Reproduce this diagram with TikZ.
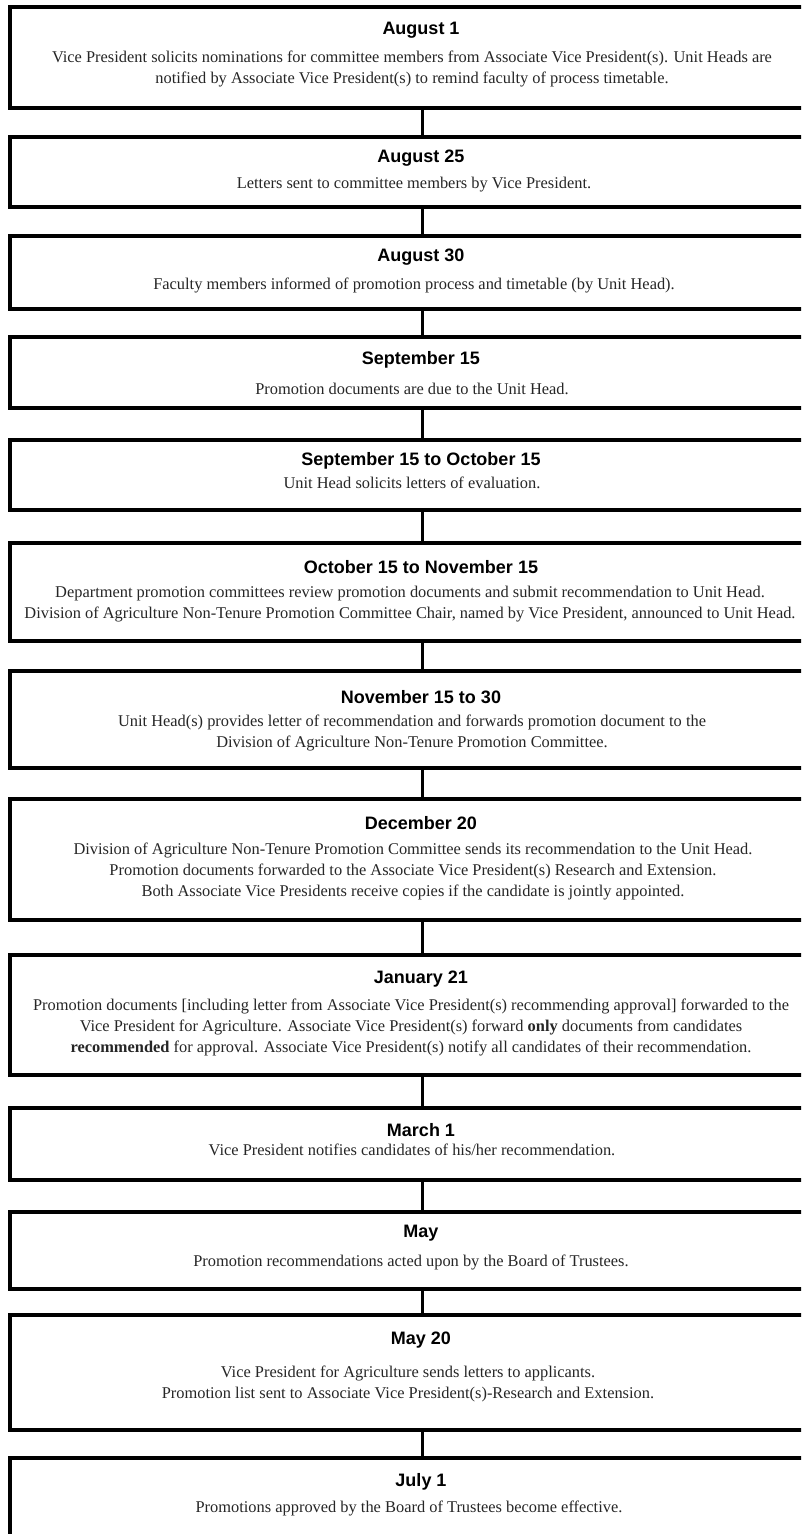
\documentclass[tikz,border=0pt]{standalone}
\usepackage{fontspec}
\setmainfont{Liberation Serif}
\newfontfamily\headfont{Liberation Sans}
\usetikzlibrary{positioning}
\tikzset{
  stagebox/.style={draw=black, line width=3.5pt, fill=white, minimum width=824pt, inner sep=0pt},
  stagetitle/.style={font=\headfont\bfseries\fontsize{18}{19}\selectfont, inner sep=0pt},
  stagetext/.style={font=\fontsize{16.4}{21}\selectfont, align=center, inner sep=0pt, text=black!85},
  link/.style={line width=3pt}
}

\begin{document}
\begin{tikzpicture}[x=1pt, y=-1pt]
  % Page frame (the boxes run off the right and bottom edge)
  \useasboundingbox (0,0) rectangle (801,1534);
  \clip (0,0) rectangle (801,1534);

  % Timeline boxes
  \node[stagebox, minimum height=101pt] (aug1) at (422,57.5) {};
  \node[stagebox, minimum height=70pt] (aug25) at (422,172) {};
  \node[stagebox, minimum height=73pt] (aug30) at (422,272.5) {};
  \node[stagebox, minimum height=71pt] (sep15) at (422,372.5) {};
  \node[stagebox, minimum height=70pt] (sepoct) at (422,475) {};
  \node[stagebox, minimum height=98pt] (octnov) at (422,592) {};
  \node[stagebox, minimum height=97pt] (nov) at (422,719.5) {};
  \node[stagebox, minimum height=121pt] (dec20) at (422,859.5) {};
  \node[stagebox, minimum height=120pt] (jan21) at (422,1015) {};
  \node[stagebox, minimum height=72pt] (mar1) at (422,1144) {};
  \node[stagebox, minimum height=77pt] (may) at (422,1250.5) {};
  \node[stagebox, minimum height=115pt] (may20) at (422,1372.5) {};
  \node[stagebox, minimum height=88pt] (jul1) at (422,1502) {};

  % Connectors
  \draw[link] (aug1) -- (aug25);
  \draw[link] (aug25) -- (aug30);
  \draw[link] (aug30) -- (sep15);
  \draw[link] (sep15) -- (sepoct);
  \draw[link] (sepoct) -- (octnov);
  \draw[link] (octnov) -- (nov);
  \draw[link] (nov) -- (dec20);
  \draw[link] (dec20) -- (jan21);
  \draw[link] (jan21) -- (mar1);
  \draw[link] (mar1) -- (may);
  \draw[link] (may) -- (may20);
  \draw[link] (may20) -- (jul1);

  % Dates
  \node[stagetitle] (aug1t) at (421,30) {August 1};
  \node[stagetitle] (aug25t) at (421,158) {August 25};
  \node[stagetitle] (aug30t) at (421,257) {August 30};
  \node[stagetitle] (sep15t) at (421,360) {September 15};
  \node[stagetitle] (sepoctt) at (421,461) {September 15 to October 15};
  \node[stagetitle] (octnovt) at (421,567) {October 15 to November 15};
  \node[stagetitle] (novt) at (421,697) {November 15 to 30};
  \node[stagetitle] (dec20t) at (421,823) {December 20};
  \node[stagetitle] (jan21t) at (421,979) {January 21};
  \node[stagetitle] (mar1t) at (421,1130) {March 1};
  \node[stagetitle] (mayt) at (421,1233) {May};
  \node[stagetitle] (may20t) at (421,1340) {May 20};
  \node[stagetitle] (jul1t) at (421,1482) {July 1};

  % Descriptions
  \node[stagetext] (aug1d) at (412,68.5) {Vice President solicits nominations for committee members from Associate Vice President(s). Unit Heads are\\notified by Associate Vice President(s) to remind faculty of process timetable.};
  \node[stagetext] (aug25d) at (414,185) {Letters sent to committee members by Vice President.};
  \node[stagetext] (aug30d) at (414,285) {Faculty members informed of promotion process and timetable (by Unit Head).};
  \node[stagetext] (sep15d) at (412,389) {Promotion documents are due to the Unit Head.};
  \node[stagetext] (sepoctd) at (412,483) {Unit Head solicits letters of evaluation.};
  \node[stagetext] (octnovd) at (410,604.5) {Department promotion committees review promotion documents and submit recommendation to Unit Head.\\Division of Agriculture Non-Tenure Promotion Committee Chair, named by Vice President, announced to Unit Head.};
  \node[stagetext] (novd) at (412,733) {Unit Head(s) provides letter of recommendation and forwards promotion document to the\\Division of Agriculture Non-Tenure Promotion Committee.};
  \node[stagetext] (dec20d) at (413,871) {Division of Agriculture Non-Tenure Promotion Committee sends its recommendation to the Unit Head.\\Promotion documents forwarded to the Associate Vice President(s) Research and Extension.\\Both Associate Vice Presidents receive copies if the candidate is jointly appointed.};
  \node[stagetext] (jan21d) at (411,1027) {Promotion documents [including letter from Associate Vice President(s) recommending approval] forwarded to the\\Vice President for Agriculture. Associate Vice President(s) forward \textbf{only} documents from candidates\\\textbf{recommended} for approval. Associate Vice President(s) notify all candidates of their recommendation.};
  \node[stagetext] (mar1d) at (412,1150) {Vice President notifies candidates of his/her recommendation.};
  \node[stagetext] (mayd) at (411,1262) {Promotion recommendations acted upon by the Board of Trustees.};
  \node[stagetext] (may20d) at (408,1383.5) {Vice President for Agriculture sends letters to applicants.\\Promotion list sent to Associate Vice President(s)-Research and Extension.};
  \node[stagetext] (jul1d) at (409,1508) {Promotions approved by the Board of Trustees become effective.};
\end{tikzpicture}
\end{document}
